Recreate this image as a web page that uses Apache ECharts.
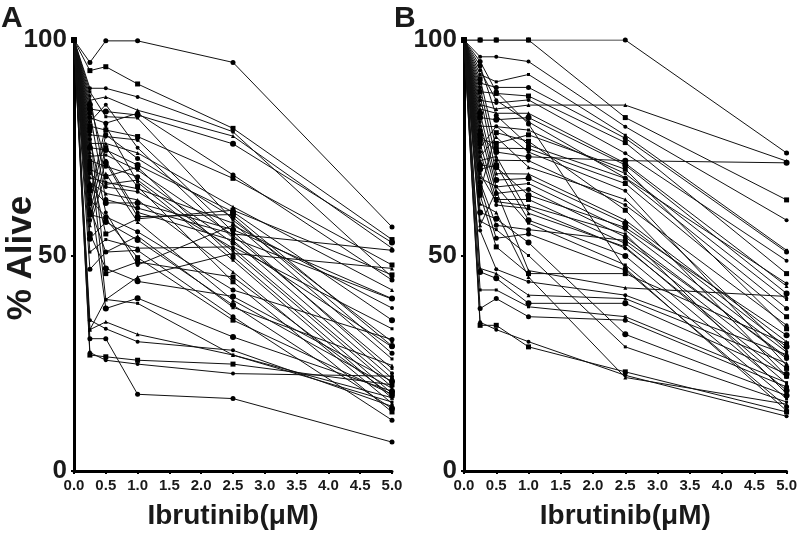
<!DOCTYPE html>
<html>
<head>
<meta charset="utf-8">
<script src="https://cdn.jsdelivr.net/npm/echarts@6/dist/echarts.min.js"></script>
<style>html,body{margin:0;padding:0;background:#fff}#c{width:800px;height:536px}</style>
</head>
<body>
<div id="c"></div>
<script>
// Ibrutinib doses (µM)
var doses = [0, 0.25, 0.5, 1, 2.5, 5];
var xTicks = ['0.0','0.5','1.0','1.5','2.0','2.5','3.0','3.5','4.0','4.5','5.0'];
var yTicks = [0, 50, 100];

// Panel A: % alive per patient sample at each dose
var aliveA = [
  [100, 94.8, 99.8, 99.8, 94.8, 56.6],
  [100, 92.9, 93.8, 89.8, 79.5, 53.7],
  [100, 88.8, 88.8, 86.8, 78.7, 45],
  [100, 86, 86.8, 83.7, 77.7, 51.7],
  [100, 84, 83.4, 82.6, 75.9, 53],
  [100, 88, 82.2, 81.9, 58.2, 30],
  [100, 82, 80.7, 83, 68.7, 44.3],
  [100, 80, 79.1, 77.6, 67.9, 47.8],
  [100, 78, 77.6, 76.8, 55.5, 22.7],
  [100, 76, 76, 73.8, 61.3, 42],
  [100, 75, 74.5, 71, 60.1, 35],
  [100, 73, 73.3, 69.8, 54.7, 23.8],
  [100, 72, 70.7, 68.3, 52.9, 28.8],
  [100, 70, 68.3, 70.5, 49.7, 18],
  [100, 69, 65.9, 64.8, 51.7, 20.4],
  [100, 67, 64.4, 62.9, 46.2, 15.7],
  [100, 66, 62.2, 62.2, 56, 40],
  [100, 64, 80, 67, 48.9, 16.9],
  [100, 62, 78, 72.5, 58.8, 27.3],
  [100, 60, 75, 66, 43.9, 13.7],
  [100, 58.2, 72, 60, 53.5, 21.5],
  [100, 57, 69, 57.8, 39.6, 19.2],
  [100, 53.9, 57.8, 53.6, 38.5, 14.5],
  [100, 50.8, 53.7, 51.7, 52, 33],
  [100, 46.8, 50.8, 51.2, 35.8, 11.8],
  [100, 79, 45.8, 48.5, 45, 17.5],
  [100, 77, 60, 47.8, 57, 37.8],
  [100, 74, 39.8, 45, 50.5, 47],
  [100, 65, 37.7, 40.1, 31.1, 18.5],
  [100, 32.8, 39.8, 38.9, 26.9, 16],
  [100, 30.7, 30.7, 17.8, 16.8, 6.7],
  [100, 26.9, 26.5, 25.7, 24.8, 20],
  [100, 27.5, 25.7, 24.8, 22.6, 22],
  [100, 32.8, 34.6, 31.7, 26.9, 17],
  [100, 85, 71.5, 59, 59.5, 29],
  [100, 68, 67, 65.5, 57.5, 26],
  [100, 63, 59, 55.5, 42, 30.5],
  [100, 71, 55, 58.5, 60.5, 45.5],
  [100, 81, 85, 75, 54, 39.9],
  [100, 61, 50.8, 54.5, 38, 24.5],
  [100, 55, 47, 44, 40.5, 20.8],
  [100, 87, 66.5, 67.5, 51, 19.5],
  [100, 83, 63, 61, 55, 51.2],
  [100, 59.5, 58.5, 49.5, 35, 17.8],
  [100, 35, 33, 30, 28, 15]
];

// Panel B: % alive per patient sample at each dose
var aliveB = [
  [100, 100, 100, 100, 100, 73.8],
  [100, 100, 100, 100, 82, 62.9],
  [100, 96.1, 96.1, 95, 79.9, 58.2],
  [100, 85, 84, 84.9, 84.9, 71.9],
  [100, 78, 74, 72.9, 72, 71.5],
  [100, 92, 90.3, 92, 77.9, 51.2],
  [100, 90, 89, 89, 77.2, 50.8],
  [100, 88, 87.6, 87, 76.2, 45.8],
  [100, 86, 85.4, 86.1, 73.7, 48.8],
  [100, 84, 83, 83, 71.4, 42.9],
  [100, 82, 81.5, 82, 71, 41.2],
  [100, 80, 79.9, 79.1, 69, 39.8],
  [100, 94, 82.5, 75.6, 67.9, 37.7],
  [100, 91, 74.9, 74.8, 66.7, 35.8],
  [100, 89, 72.1, 72, 61.7, 33.8],
  [100, 87, 69, 68.9, 58.2, 30],
  [100, 83, 67.5, 67.9, 57.5, 28.8],
  [100, 81, 65.9, 66.7, 55.9, 27.6],
  [100, 79, 64.4, 65.3, 54.3, 26.1],
  [100, 76, 63, 63, 52.8, 23.8],
  [100, 74, 61.7, 60.9, 51.7, 21.8],
  [100, 72, 73, 59.8, 52, 20.3],
  [100, 70, 71, 58.2, 49.9, 18.7],
  [100, 68, 66, 57.5, 47.8, 16.8],
  [100, 66, 54, 55, 46.6, 14.9],
  [100, 64, 52, 45.8, 45.8, 29.5],
  [100, 55.8, 46.8, 43.9, 40.8, 27],
  [100, 47, 45.8, 40.8, 40, 25],
  [100, 46.2, 44.7, 38.9, 38.9, 22.5],
  [100, 42, 42, 38.1, 35.8, 20.5],
  [100, 37.7, 40, 35.8, 35, 19.5],
  [100, 33.8, 33.8, 28.8, 23, 13.7],
  [100, 34.5, 32.8, 30, 22.2, 12.7],
  [100, 62, 60, 45, 21.7, 15.5],
  [100, 60, 58.5, 53, 31.7, 17.5],
  [100, 58, 56, 50, 28.8, 16],
  [100, 95, 88, 80.5, 47, 14],
  [100, 77, 76, 78, 70, 33],
  [100, 75, 80, 74, 65, 24.5],
  [100, 73, 77.5, 70.5, 63, 28],
  [100, 71, 70.5, 64, 56.5, 31.5],
  [100, 69, 62.5, 61.5, 55, 18],
  [100, 67, 57, 56, 53.5, 26.5],
  [100, 65, 78.5, 76.5, 60.5, 22],
  [100, 93, 86, 81, 68, 43.5],
  [100, 57, 65, 46.5, 42.5, 40.5]
];

var FONT = '"Liberation Sans", Arial, Helvetica, sans-serif';
var symbols = ['circle', 'rect', 'circle', 'triangle', 'circle', 'rect'];
var sizes = [5, 5, 4, 4, 6, 3];

function buildSeries(rows, idx) {
  return rows.map(function (row, i) {
    return {
      type: 'line',
      xAxisIndex: idx,
      yAxisIndex: idx,
      data: row.map(function (v, j) { return [doses[j], v]; }),
      symbol: symbols[i % symbols.length],
      symbolSize: sizes[i % sizes.length],
      showSymbol: true,
      lineStyle: { color: '#111', width: 1 },
      itemStyle: { color: '#000' },
      silent: true,
      z: 2
    };
  });
}

function xAxis(idx) {
  return {
    type: 'value', gridIndex: idx, min: 0, max: 5, interval: 0.5,
    axisLine: { lineStyle: { color: '#000', width: 3 } },
    axisTick: { show: true, length: 3, lineStyle: { color: '#000', width: 2 } },
    splitLine: { show: false },
    axisLabel: {
      color: '#1a1a1a', fontSize: 15, fontWeight: 'bold', fontFamily: FONT, margin: 7,
      formatter: function (v) { return xTicks[Math.round(v / 0.5)]; }
    },
    name: 'Ibrutinib(μM)', nameLocation: 'middle', nameGap: 31,
    nameTextStyle: { color: '#1a1a1a', fontSize: 28, fontWeight: 'bold', fontFamily: FONT }
  };
}
function yAxis(idx) {
  return {
    type: 'value', gridIndex: idx, min: yTicks[0], max: yTicks[2], interval: 50,
    axisLine: { show: true, lineStyle: { color: '#000', width: 3 } },
    axisTick: { show: true, length: 3, lineStyle: { color: '#000', width: 2 } },
    splitLine: { show: false },
    axisLabel: { color: '#1a1a1a', fontSize: 26, fontWeight: 'bold', fontFamily: FONT, margin: 7 }
  };
}

var chart = echarts.init(document.getElementById('c'), null, { renderer: 'canvas' });
chart.setOption({
  animation: false,
  backgroundColor: '#fff',
  grid: [
    { left: 74, top: 40, width: 318, height: 431 },
    { left: 464, top: 40, width: 326, height: 431 }
  ],
  xAxis: [xAxis(0), xAxis(1)],
  yAxis: [yAxis(0), yAxis(1)],
  graphic: [
    { type: 'text', left: 1, top: 4, style: { text: 'A', fontSize: 30, fontWeight: 'bold', fontFamily: FONT, fill: '#1a1a1a' } },
    { type: 'text', left: 394, top: 4, style: { text: 'B', fontSize: 30, fontWeight: 'bold', fontFamily: FONT, fill: '#1a1a1a' } },
    { type: 'text', x: 21, y: 258, rotation: Math.PI / 2,
      style: { text: '% Alive', fontSize: 35, fontWeight: 'bold', fontFamily: FONT, fill: '#1a1a1a', align: 'center', verticalAlign: 'middle' } }
  ],
  series: buildSeries(aliveA, 0).concat(buildSeries(aliveB, 1))
});
</script>
</body>
</html>
